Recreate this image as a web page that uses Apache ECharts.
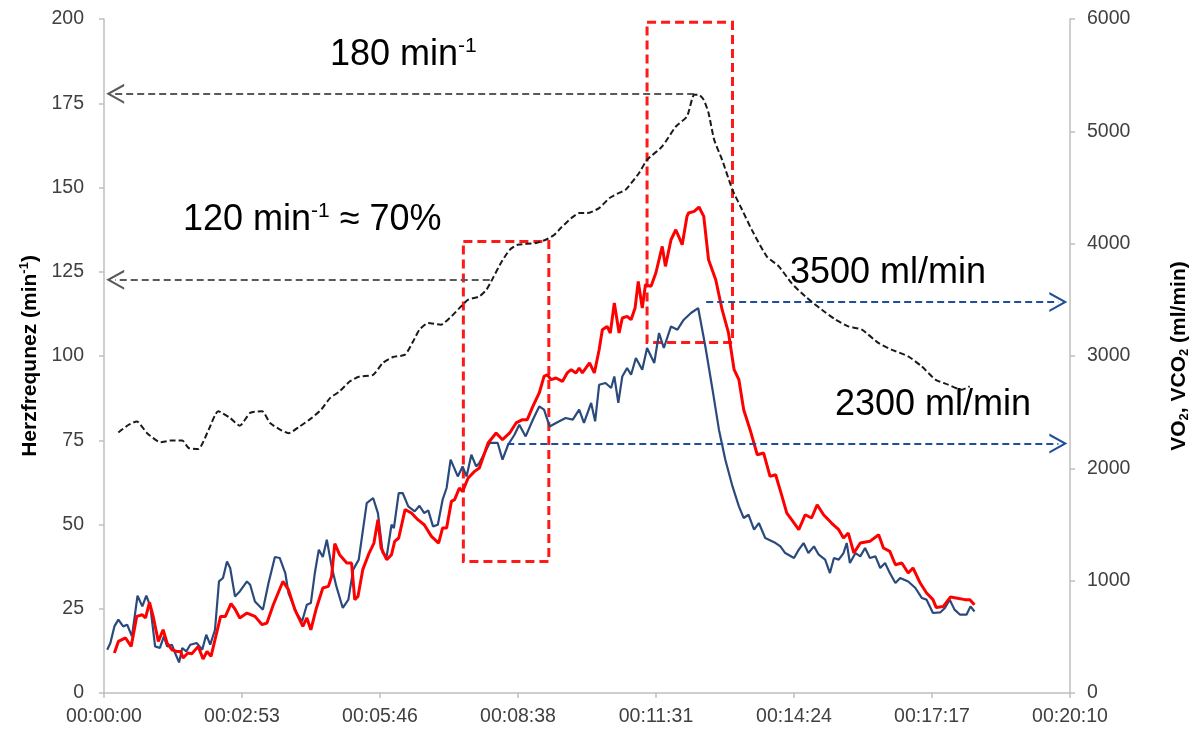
<!DOCTYPE html>
<html>
<head>
<meta charset="utf-8">
<script src="https://cdn.jsdelivr.net/npm/echarts@6/dist/echarts.min.js"></script>
<style>
html,body{margin:0;padding:0;background:#fff;}
#chart{width:1199px;height:729px;}
</style>
</head>
<body>
<div id="chart"></div>
<script>
// x tick labels (axis in seconds, major unit 0.002 day = 172.8 s)
const xTickLabels = ['00:00:00','00:02:53','00:05:46','00:08:38','00:11:31','00:14:24','00:17:17','00:20:10'];
const xStep = 172.8;

// Heart rate [seconds, min^-1] (left axis)
const hrData = [[18,77.3],[31,79.6],[41,80.6],[54,77.1],[71,74.4],[83,74.9],[98,74.9],[106,72.7],[118,72.4],[131,78.1],[143,83.6],[158,81.6],[170,79.3],[183,83.1],[198,83.6],[208,80.1],[221,78.1],[231,77.1],[245,79.1],[260,81.6],[272,84.1],[283,87.5],[295,89.5],[308,92.5],[320,93.9],[337,94.4],[349,97.9],[362,99.7],[377,100.4],[387,104.3],[395,107.8],[406,109.8],[422,109.3],[433,111.3],[445,114.2],[456,116.7],[470,117.7],[479,119.7],[487,123.1],[497,127.6],[508,131.5],[518,133.0],[541,133.5],[553,134.5],[564,136.0],[572,138.0],[585,140.9],[595,142.4],[605,142.4],[620,143.9],[633,146.9],[645,148.4],[653,149.3],[670,154.3],[680,158.2],[699,162.2],[716,168.1],[730,171.1],[739,177.5],[745,177.5],[751,176.0],[757,172.1],[764,164.2],[774,158.2],[787,149.3],[799,143.4],[811,137.5],[830,129.5],[845,126.6],[861,121.6],[878,117.7],[899,113.7],[916,110.8],[932,108.8],[949,107.8],[970,103.8],[986,101.9],[1007,99.9],[1024,96.9],[1041,93.0],[1057,91.5],[1074,90.0],[1084,91.0]];

// VO2 [seconds, ml/min] (right axis)
const vo2Data = [[4,385],[8,445],[13,593],[18,653],[24,593],[29,608],[35,504],[42,866],[48,771],[53,866],[58,771],[64,415],[70,401],[75,504],[79,415],[85,430],[89,356],[94,272],[98,401],[103,370],[108,430],[116,445],[123,385],[128,519],[133,430],[139,563],[144,993],[149,1024],[154,1171],[158,1113],[164,860],[170,904],[179,993],[183,964],[189,815],[199,742],[206,979],[214,1211],[220,1202],[227,1068],[231,890],[241,712],[248,637],[254,786],[259,801],[264,1068],[269,1276],[274,1211],[279,1365],[285,1127],[291,949],[299,757],[306,831],[312,1098],[319,1187],[329,1691],[337,1736],[343,1602],[349,1246],[354,1216],[360,1498],[363,1469],[369,1780],[374,1780],[381,1661],[389,1617],[395,1667],[401,1602],[406,1626],[412,1483],[418,1498],[424,1721],[429,1825],[434,2077],[443,1928],[449,2017],[454,1928],[460,2121],[466,2017],[470,2047],[483,2226],[493,2226],[499,2077],[506,2210],[514,2299],[520,2388],[528,2284],[537,2433],[545,2551],[551,2522],[558,2373],[566,2404],[578,2448],[587,2433],[595,2522],[601,2404],[610,2582],[615,2418],[620,2744],[628,2760],[635,2715],[639,2818],[644,2582],[649,2818],[655,2893],[660,2833],[666,2982],[674,2878],[680,3071],[689,2938],[695,3205],[701,3071],[710,3263],[718,3234],[726,3323],[735,3383],[744,3427],[753,3085],[762,2700],[770,2344],[778,2077],[787,1839],[795,1661],[801,1558],[807,1587],[814,1454],[820,1513],[828,1380],[841,1335],[847,1305],[853,1246],[864,1202],[870,1276],[876,1335],[882,1246],[889,1305],[895,1231],[903,1187],[909,1068],[914,1202],[920,1187],[926,1246],[930,1335],[934,1157],[941,1246],[947,1216],[953,1291],[959,1202],[966,1216],[972,1113],[978,1157],[984,1068],[991,979],[997,1024],[1007,993],[1016,935],[1024,846],[1030,831],[1038,712],[1047,717],[1053,757],[1059,831],[1065,742],[1072,697],[1080,697],[1085,771],[1090,726]];

// VCO2 [seconds, ml/min] (right axis)
const vco2Data = [[13,356],[18,459],[27,490],[34,415],[41,682],[48,697],[52,668],[57,807],[62,668],[68,459],[74,563],[79,445],[85,385],[91,370],[96,370],[99,312],[105,356],[110,350],[118,415],[124,303],[129,370],[134,326],[139,474],[146,682],[152,682],[159,795],[164,748],[170,668],[179,712],[189,682],[198,608],[204,623],[212,786],[224,993],[231,920],[239,742],[249,593],[254,668],[259,563],[266,757],[274,935],[281,949],[285,1038],[289,1329],[295,1231],[304,1157],[310,1157],[314,831],[318,860],[324,1098],[332,1246],[338,1335],[343,1543],[347,1291],[354,1187],[360,1231],[364,1350],[369,1380],[377,1632],[385,1602],[393,1543],[401,1498],[410,1394],[419,1335],[424,1469],[429,1469],[435,1706],[439,1721],[445,1825],[449,1795],[456,1914],[464,1973],[470,2003],[481,2226],[491,2315],[499,2255],[508,2315],[516,2404],[524,2433],[530,2433],[537,2551],[545,2671],[551,2818],[555,2833],[560,2789],[566,2804],[574,2774],[580,2849],[585,2878],[591,2849],[595,2893],[599,2849],[608,2938],[614,2849],[620,3056],[624,3234],[630,3263],[634,3205],[639,3472],[645,3205],[649,3338],[655,3353],[660,3323],[665,3427],[669,3664],[674,3427],[678,3635],[685,3620],[691,3739],[699,3976],[703,3798],[710,4035],[716,4124],[724,3991],[730,4243],[732,4273],[739,4287],[745,4326],[751,4243],[757,3857],[766,3679],[774,3412],[782,3205],[789,2878],[795,2789],[801,2522],[809,2344],[818,2121],[826,2136],[834,1928],[841,1943],[849,1750],[855,1602],[861,1543],[870,1454],[878,1587],[886,1558],[893,1676],[901,1587],[911,1513],[920,1454],[926,1380],[932,1424],[939,1246],[947,1335],[959,1350],[970,1409],[976,1291],[984,1261],[991,1142],[999,1157],[1007,1068],[1013,1113],[1022,979],[1030,890],[1038,831],[1042,762],[1051,771],[1060,855],[1067,846],[1078,831],[1084,831],[1090,786]];

// Annotations: arrows [startTime, level, endTime], boxes [t0, t1, hrLow, hrHigh]
const hrArrows = [[739,177.8,14],[483,122.6,14]];
const vo2Arrows = [[754,3480,1195],[505,2220,1195]];
const boxes = [[450,557,39,134],[680,787,104,199]];

const FONT = "'Liberation Sans', Arial, sans-serif";
const chevron = 'path://M0,16 L10,0 L20,16 L17.6,16 L10,3.8 L2.4,16 Z';

const chart = echarts.init(document.getElementById('chart'), null, {renderer:'canvas'});

const axisCommon = {
  axisLine:{show:true, lineStyle:{color:'#bfbfbf', width:1.5}},
  axisTick:{show:true, length:5, lineStyle:{color:'#bfbfbf', width:1.5}},
  splitLine:{show:false}
};

const option = {
  animation: false,
  backgroundColor: '#ffffff',
  textStyle: {fontFamily: FONT},
  grid: {left:104, right:127, top:19, bottom:36, containLabel:false},
  xAxis: Object.assign({
    type:'value', min:0, max:xStep*7, interval:xStep,
    axisLabel:{fontSize:19.5, color:'#404040', margin:14, fontFamily:FONT,
      formatter: v => xTickLabels[Math.round(v/xStep)] || ''}
  }, axisCommon),
  yAxis: [Object.assign({
    type:'value', min:0, max:200, interval:25, position:'left',
    axisLabel:{fontSize:19.5, color:'#404040', margin:20, fontFamily:FONT, formatter: v => String(v)},
    name:'{b|Herzfrequnez (min}{p|-1}{b|)}', nameLocation:'middle', nameGap:58, nameRotate:90,
    nameTextStyle:{rich:{
      b:{fontSize:21, fontWeight:'bold', color:'#000', fontFamily:FONT, lineHeight:24},
      p:{fontSize:13, fontWeight:'bold', color:'#000', fontFamily:FONT, verticalAlign:'top', lineHeight:24}
    }}
  }, axisCommon), Object.assign({
    type:'value', min:0, max:6000, interval:1000, position:'right',
    axisLabel:{fontSize:19.5, color:'#404040', margin:17, fontFamily:FONT, formatter: v => String(v)},
    name:'{b|VO}{s|2}{b|, VCO}{s|2}{b| (ml/min)}', nameLocation:'middle', nameGap:97, nameRotate:90,
    nameTextStyle:{rich:{
      b:{fontSize:21, fontWeight:'bold', color:'#000', fontFamily:FONT, lineHeight:24},
      s:{fontSize:13, fontWeight:'bold', color:'#000', fontFamily:FONT, verticalAlign:'bottom', lineHeight:24}
    }}
  }, axisCommon)],
  series: [
    {
      name:'VO2', type:'line', yAxisIndex:1, data:vo2Data, showSymbol:false, symbol:'none',
      lineStyle:{color:'#2b4a7c', width:2.2}, z:3,
      markLine:{
        silent:true, symbol:['none', chevron], symbolSize:[20,18],
        lineStyle:{color:'#1f4e9a', width:2, type:[7,4]}, label:{show:false},
        data: vo2Arrows.map(a => [{coord:[a[0],a[1]]},{coord:[a[2],a[1]]}])
      }
    },
    {
      name:'VCO2', type:'line', yAxisIndex:1, data:vco2Data, showSymbol:false, symbol:'none',
      lineStyle:{color:'#ff0000', width:3}, z:4
    },
    {
      name:'HF', type:'line', yAxisIndex:0, data:hrData, showSymbol:false, symbol:'none', smooth:0.2,
      lineStyle:{color:'#1a1a1a', width:2, type:[6,3]}, z:5,
      markLine:{
        silent:true, symbol:['none', chevron], symbolSize:[20,18],
        lineStyle:{color:'#595959', width:2, type:[7,4]}, label:{show:false},
        data: hrArrows.map(a => [{coord:[a[0],a[1]]},{coord:[a[2],a[1]]}])
      },
      markArea:{
        silent:true, label:{show:false},
        itemStyle:{color:'rgba(0,0,0,0)', borderColor:'#ff1a1a', borderWidth:3, borderType:[9,5]},
        data: boxes.map(b => [{coord:[b[0],b[3]]},{coord:[b[1],b[2]]}])
      }
    }
  ],
  graphic: [
    {type:'text', left:330, top:36, style:{text:'{m|180 min}{s|-1}', rich:{
      m:{fontSize:36, fontFamily:FONT, fill:'#000', lineHeight:38},
      s:{fontSize:21, fontFamily:FONT, fill:'#000', verticalAlign:'top', lineHeight:38}}}},
    {type:'text', left:183, top:201, style:{text:'{m|120 min}{s|-1}{m| \u2248 70%}', rich:{
      m:{fontSize:36, fontFamily:FONT, fill:'#000', lineHeight:38},
      s:{fontSize:21, fontFamily:FONT, fill:'#000', verticalAlign:'top', lineHeight:38}}}},
    {type:'text', left:790, top:255, style:{text:'3500 ml/min', fontSize:36, fontFamily:FONT, fill:'#000'}},
    {type:'text', left:835, top:387, style:{text:'2300 ml/min', fontSize:36, fontFamily:FONT, fill:'#000'}}
  ]
};
chart.setOption(option);
</script>
</body>
</html>
